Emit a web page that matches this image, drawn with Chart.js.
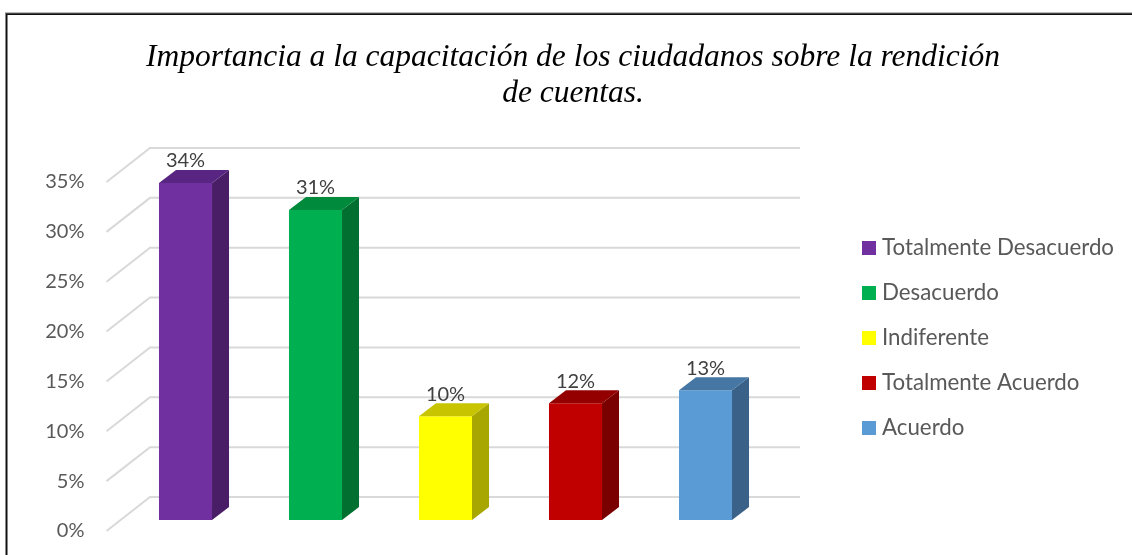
<!DOCTYPE html>
<html>
<head>
<meta charset="utf-8">
<script src="https://cdn.jsdelivr.net/npm/chart.js@4.4.0/dist/chart.umd.min.js"></script>
<style>
  html, body { margin: 0; padding: 0; background: #fff; }
  #wrap { width: 1132px; height: 555px; position: relative; }
</style>
</head>
<body>
<div id="wrap"><canvas id="myChart"></canvas></div>
<script>
// data
const categories = ['Totalmente Desacuerdo', 'Desacuerdo', 'Indiferente', 'Totalmente Acuerdo', 'Acuerdo'];
const values = [0.338, 0.311, 0.104, 0.117, 0.130];
const tickValues = [0, 0.05, 0.10, 0.15, 0.20, 0.25, 0.30, 0.35];
const titleLines = ['Importancia a la capacitación de los ciudadanos sobre la rendición', 'de cuentas.'];

// colours: front face, top face, side face
const frontColors = ['#7030A0', '#00B050', '#FFFF00', '#C00000', '#5B9BD5'];
const topColors = ['#582682', '#008A3C', '#C8C400', '#940000', '#4676A3'];
const sideColors = ['#4A1E66', '#006F2F', '#A8A600', '#7A0000', '#3A6188'];

// 3d offsets relative to the plane of the bar front faces
const BAR = { dx: 17, dy: -13 };
const WALL = { dx: 29.5, dy: -23 };
const FRONT = { dx: -14, dy: 11 };

const labelFont = '20px Lato';
const legendFont = '22.3px Lato';
const textGrey = '#595959';

function pct(v) {
    return Math.round(v * 100) + '%';
}

const threeD = {
    id: 'threeD',
    beforeDraw(chart) {
        const ctx = chart.ctx;
        ctx.save();
        ctx.fillStyle = '#fff';
        ctx.fillRect(0, 0, chart.width, chart.height);
        // outer frame (top and left edges only are visible)
        ctx.strokeStyle = '#111';
        ctx.lineWidth = 2;
        ctx.beginPath();
        ctx.moveTo(6.5, chart.height);
        ctx.lineTo(6.5, 14);
        ctx.lineTo(chart.width, 14);
        ctx.stroke();
        ctx.lineWidth = 1;
        ctx.beginPath();
        ctx.moveTo(5, 13);
        ctx.lineTo(chart.width, 13);
        ctx.strokeStyle = '#777';
        ctx.stroke();

        // title
        ctx.fillStyle = '#000';
        ctx.font = 'italic 31.5px "Liberation Serif"';
        ctx.textAlign = 'center';
        ctx.textBaseline = 'alphabetic';
        ctx.fillText(titleLines[0], 573, 66);
        ctx.fillText(titleLines[1], 573, 102);
        ctx.restore();
    },
    beforeDatasetsDraw(chart) {
        const { ctx, scales: { x, y } } = chart;
        ctx.save();
        // back wall grid + diagonal lines on the side
        ctx.strokeStyle = '#d9d9d9';
        ctx.lineWidth = 2;
        tickValues.forEach(v => {
            const py = y.getPixelForValue(v);
            ctx.beginPath();
            ctx.moveTo(x.left + FRONT.dx, py + FRONT.dy);
            ctx.lineTo(x.left + WALL.dx, py + WALL.dy);
            ctx.lineTo(x.right + WALL.dx, py + WALL.dy);
            ctx.stroke();
        });
        // axis labels
        ctx.fillStyle = textGrey;
        ctx.font = labelFont;
        ctx.textAlign = 'right';
        ctx.textBaseline = 'middle';
        tickValues.forEach(v => {
            ctx.fillText(pct(v), x.left - 36, y.getPixelForValue(v) + FRONT.dy);
        });
        ctx.restore();
    },
    afterDatasetsDraw(chart) {
        const ctx = chart.ctx;
        const meta = chart.getDatasetMeta(0);
        ctx.save();
        meta.data.forEach((bar, i) => {
            const p = bar.getProps(['x', 'y', 'base', 'width'], true);
            const l = p.x - p.width / 2;
            const r = p.x + p.width / 2;
            // side face
            ctx.fillStyle = sideColors[i];
            ctx.beginPath();
            ctx.moveTo(r, p.y);
            ctx.lineTo(r + BAR.dx, p.y + BAR.dy);
            ctx.lineTo(r + BAR.dx, p.base + BAR.dy);
            ctx.lineTo(r, p.base);
            ctx.closePath();
            ctx.fill();
            // top face
            ctx.fillStyle = topColors[i];
            ctx.beginPath();
            ctx.moveTo(l, p.y);
            ctx.lineTo(l + BAR.dx, p.y + BAR.dy);
            ctx.lineTo(r + BAR.dx, p.y + BAR.dy);
            ctx.lineTo(r, p.y);
            ctx.closePath();
            ctx.fill();
            // value label
            ctx.fillStyle = '#404040';
            ctx.font = labelFont;
            ctx.textAlign = 'center';
            ctx.textBaseline = 'bottom';
            ctx.fillText(pct(values[i]), p.x, p.y + BAR.dy + 1);
        });
        ctx.restore();
    },
    afterDraw(chart) {
        const ctx = chart.ctx;
        ctx.save();
        ctx.font = legendFont;
        ctx.textAlign = 'left';
        ctx.textBaseline = 'middle';
        categories.forEach((c, i) => {
            const cy = 248 + i * 45;
            ctx.fillStyle = frontColors[i];
            ctx.fillRect(862, cy - 7, 14, 14);
            ctx.fillStyle = textGrey;
            ctx.fillText(c, 882, cy);
        });
        ctx.restore();
    }
};

new Chart('myChart', {
    type: 'bar',
    data: {
        labels: categories,
        datasets: [{
            data: values,
            backgroundColor: frontColors,
            borderWidth: 0,
            categoryPercentage: 1,
            barPercentage: 0.408
        }]
    },
    options: {
        responsive: true,
        maintainAspectRatio: false,
        animation: false,
        layout: { padding: { left: 120.5, right: 361.5, top: 171, bottom: 35 } },
        plugins: {
            legend: { display: false },
            title: { display: false },
            tooltip: { enabled: false }
        },
        scales: {
            x: { display: false },
            y: { display: false, min: 0, max: 0.35, ticks: { stepSize: 0.05 } }
        }
    },
    plugins: [threeD]
});
</script>
</body>
</html>
